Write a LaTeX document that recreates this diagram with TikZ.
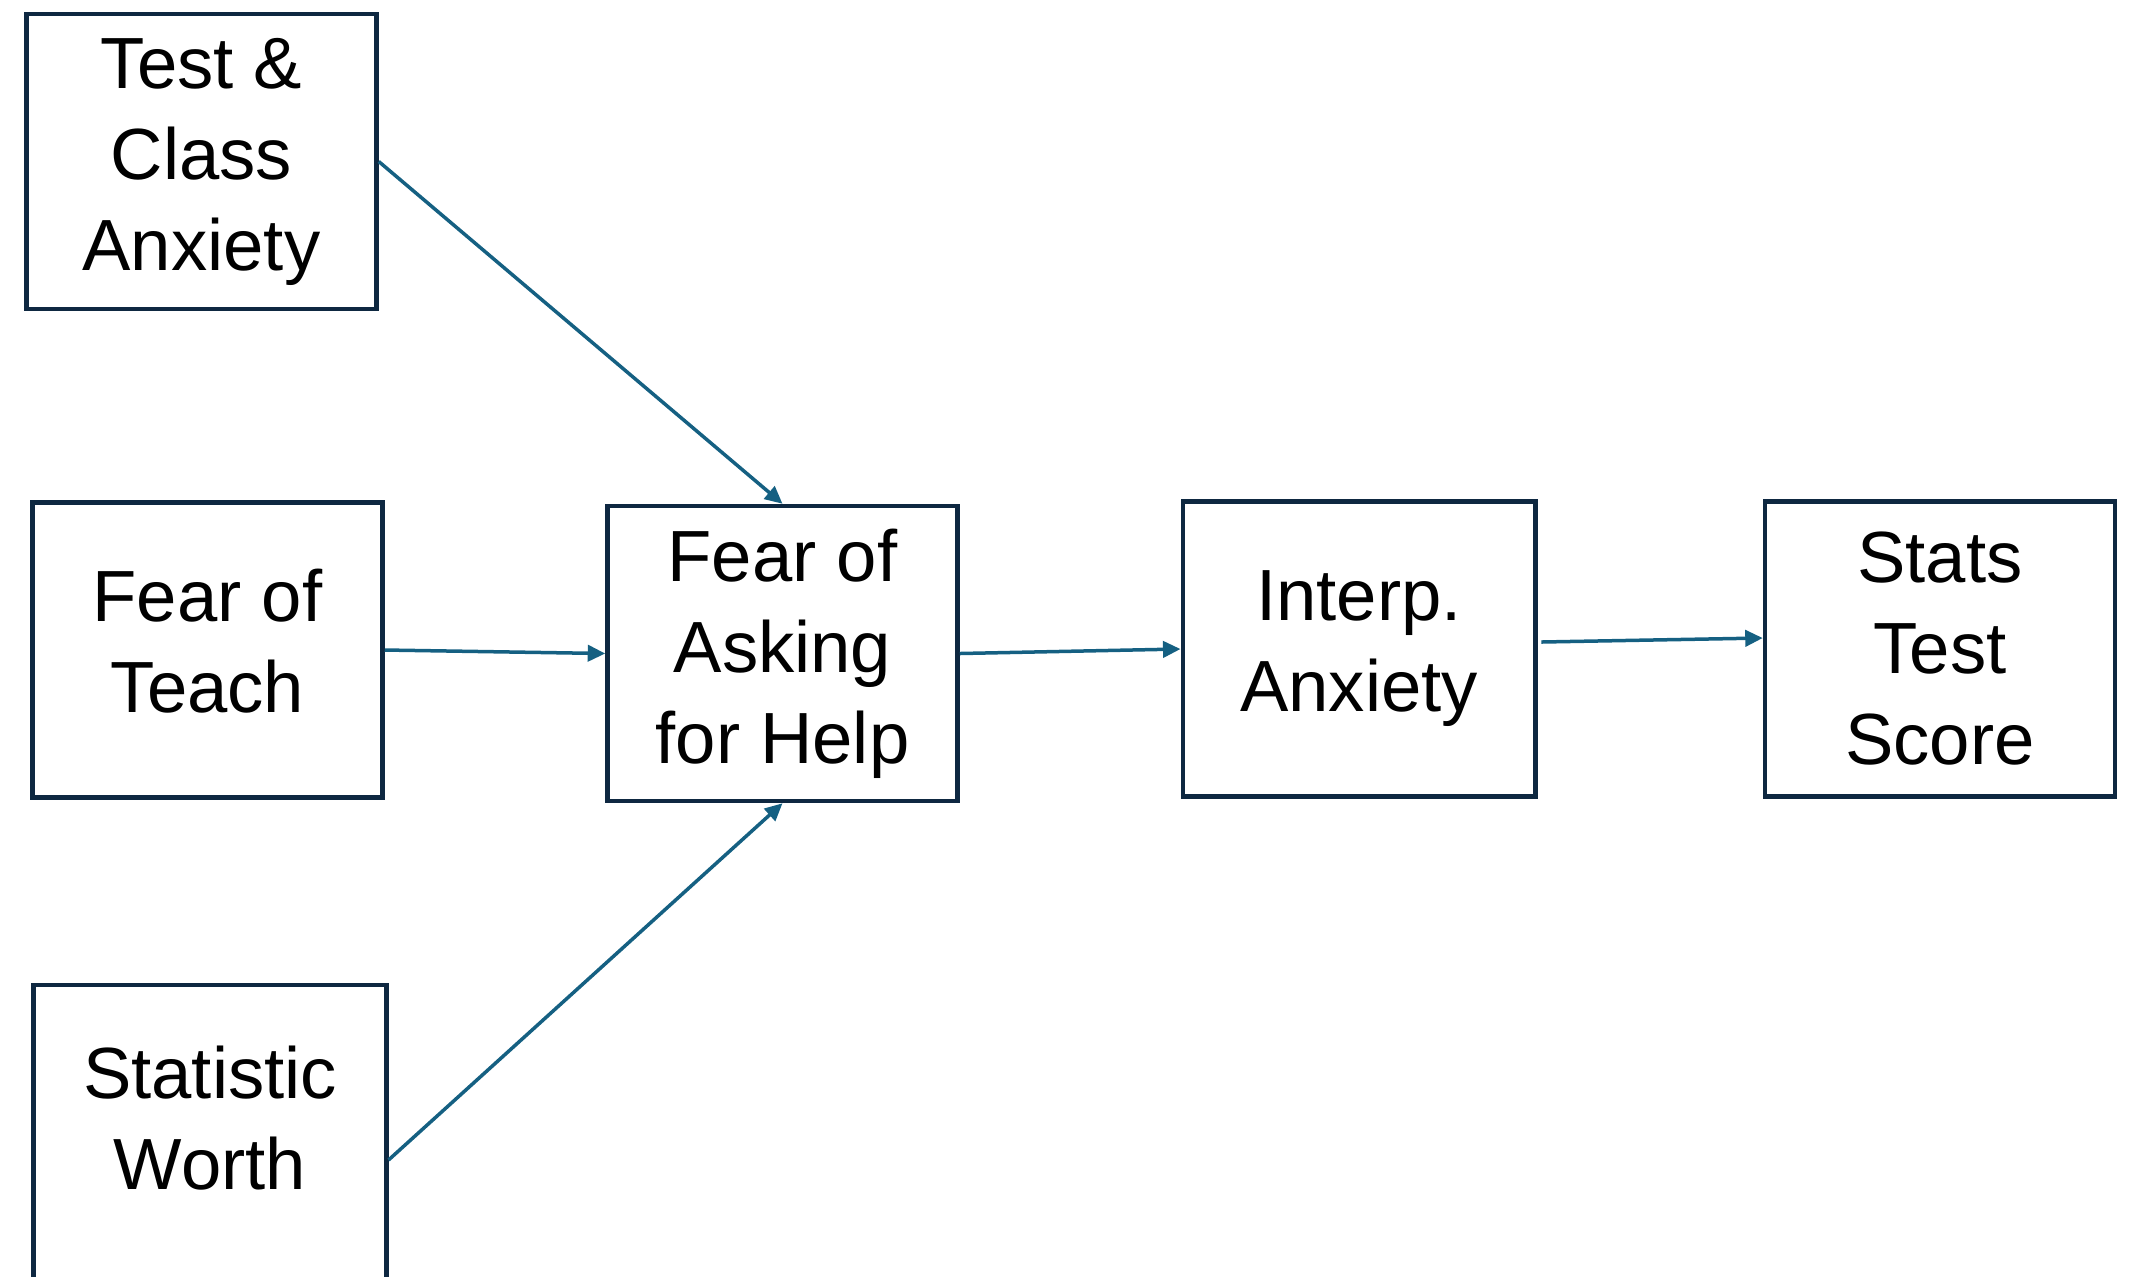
\documentclass[tikz,border=0pt]{standalone}
\usepackage{fontspec}
\setmainfont{Liberation Sans}
\usetikzlibrary{arrows.meta}
\definecolor{boxline}{HTML}{0E2841}
\definecolor{arrowcol}{HTML}{156082}
\newcommand{\raisedlines}[2]{\raisebox{#1}[\height][\depth]{\begin{tabular}{@{}c@{}}#2\end{tabular}}}
\tikzset{
  factor/.style={draw=boxline, line width=1.8pt, minimum width=140pt, minimum height=118pt,
    align=center, inner sep=0pt, font=\fontsize{29}{36.4}\selectfont, text=black},
  link/.style={draw=arrowcol, line width=1.4pt, -{Triangle[length=7pt,width=6.5pt]}}
}
\begin{document}
\begin{tikzpicture}[x=0.4pt, y=-0.4pt]
\useasboundingbox (0,0) rectangle (2137,1276);
\clip (0,0) rectangle (2137,1276);
\node[factor] (tca) at (201.5,161.5) {Test \&\\Class\\Anxiety};
\node[factor] (fot) at (207.5,650) {\raisedlines{0.6pt}{Fear of\\Teach}};
\node[factor, minimum width=141pt] (sw) at (210,1132.5) {\raisedlines{2.7pt}{Statistic\\Worth}};
\node[factor] (fah) at (782.5,653.5) {Fear of\\Asking\\for Help};
\node[factor, minimum width=141pt] (ia) at (1359,649) {Interp.\\Anxiety};
\node[factor] (sts) at (1940,649) {Stats\\Test\\Score};
\draw[link] (tca.east) -- (fah.north);
\draw[link] (fot.east) -- (fah.west);
\draw[link] ([yshift=-11pt]sw.east) -- (fah.south);
\draw[link] (fah.east) -- (ia.west);
\draw[link] ([xshift=1.5pt,yshift=2.8pt]ia.east) -- ([yshift=4.4pt]sts.west);
\end{tikzpicture}
\end{document}
